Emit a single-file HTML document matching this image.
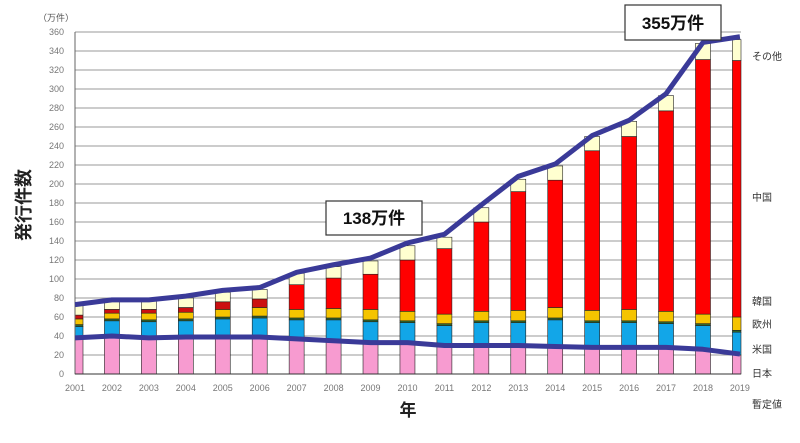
<!DOCTYPE html>
<html><head><meta charset="utf-8"><style>
html,body{margin:0;padding:0;background:#fff;}
svg{display:block;}
text{font-family:"Liberation Sans","Noto Sans CJK JP",sans-serif;}
</style></head><body>
<svg width="800" height="443" viewBox="0 0 800 443" xmlns="http://www.w3.org/2000/svg">
<g id="grid" stroke="#9a9a9a" stroke-width="1"></g>
<g id="bars"></g>
<line x1="75" y1="32" x2="75" y2="374" stroke="#666" stroke-width="1"/>
<line x1="75" y1="374" x2="741" y2="374" stroke="#333" stroke-width="1"/>
<g id="lines"></g>
<g id="labels" font-size="9" fill="#777"></g>
<text x="38" y="21" font-size="9" fill="#555">（万件）</text>
<text transform="translate(30,205) rotate(-90)" text-anchor="middle" font-size="18" font-weight="bold" fill="#222">発行件数</text>
<text x="408" y="416" text-anchor="middle" font-size="17" font-weight="bold" fill="#222">年</text>
<rect x="326" y="201" width="96" height="34" fill="#fff" stroke="#333" stroke-width="1.2"/>
<text x="374" y="224" text-anchor="middle" font-size="17" font-weight="bold" fill="#111">138万件</text>
<rect x="625" y="5" width="96" height="35" fill="#fff" stroke="#333" stroke-width="1.2"/>
<text x="673" y="29" text-anchor="middle" font-size="17" font-weight="bold" fill="#111">355万件</text>
<g font-size="10" fill="#333">
<text x="752" y="60">その他</text>
<text x="752" y="201">中国</text>
<text x="752" y="305">韓国</text>
<text x="752" y="328">欧州</text>
<text x="752" y="353">米国</text>
<text x="752" y="377">日本</text>
<text x="752" y="408">暫定値</text>
</g>
</svg>
<script>
(function(){
const Y=v=>374-v*0.95, X=i=>75+i*36.94;
const grid=document.getElementById('grid'),lab=document.getElementById('labels');
let s='',l='';
for(let v=0;v<=360;v+=20){ if(v>0) s+=`<line x1="75" y1="${Y(v)}" x2="741" y2="${Y(v)}"/>`; l+=`<text x="64" y="${Y(v)+3}" text-anchor="end">${v}</text>`;}
for(let i=0;i<19;i++) l+=`<text x="${X(i)}" y="391" text-anchor="middle">${2001+i}</text>`;
grid.innerHTML=s; lab.innerHTML=l;
const d=[[38,12,2,6,4,72],[40,16,2,6,4,77],[38,17,2,7,4,78],[39,17,2,7,5,80],[39,19,2,8,8,86],[39,20,2,9,9,89],[37,20,2,9,26,106],[36,21,2,10,32,113],[34,21,2,11,37,119],[33,21,2,10,54,135],[31,20,2,10,69,144],[31,23,2,10,94,175],[29,25,2,11,125,205],[29,28,2,11,134,219],[28,26,2,11,168,250],[28,26,2,12,182,266],[28,25,2,11,211,293],[26,25,2,10,268,348],[20,24,2,14,270,352]];
const cols=['#f79bd0','#12a6e8','#2d6a2d','#f5c400','#ff0000','#ffffd0'];
let b='';
d.forEach((r,i)=>{let x=X(i)-7.5,w=15; if(i==0){x=75;w=8;} if(i==18){w=741-x;}
 let c=0; for(let k=0;k<5;k++){let v=r[k]; b+=`<rect x="${x}" y="${Y(c+v)}" width="${w}" height="${v*0.95}" fill="${i<6&&k==4?'#cc1010':cols[k]}" stroke="#222" stroke-width="0.6"/>`; c+=v;}
 b+=`<rect x="${x}" y="${Y(r[5])}" width="${w}" height="${(r[5]-c)*0.95}" fill="${cols[5]}" stroke="#222" stroke-width="0.6"/>`;});
document.getElementById('bars').innerHTML=b;
const tot=[73,78,78,82,88,91,107,115,122,138,147,178,208,221,251,267,295,349,355];
const jp=[38,40,38,39,39,39,37,35,33,33,30,30,30,29,28,28,28,26,21];
const pl=a=>a.map((v,i)=>X(i)+','+Y(v)).join(' ');
document.getElementById('lines').innerHTML=`<polyline points="${pl(tot)}" fill="none" stroke="#3a3a98" stroke-width="5" stroke-linejoin="round"/><polyline points="${pl(jp)}" fill="none" stroke="#3a3a98" stroke-width="5" stroke-linejoin="round"/>`;
})();
</script>
</body></html>
